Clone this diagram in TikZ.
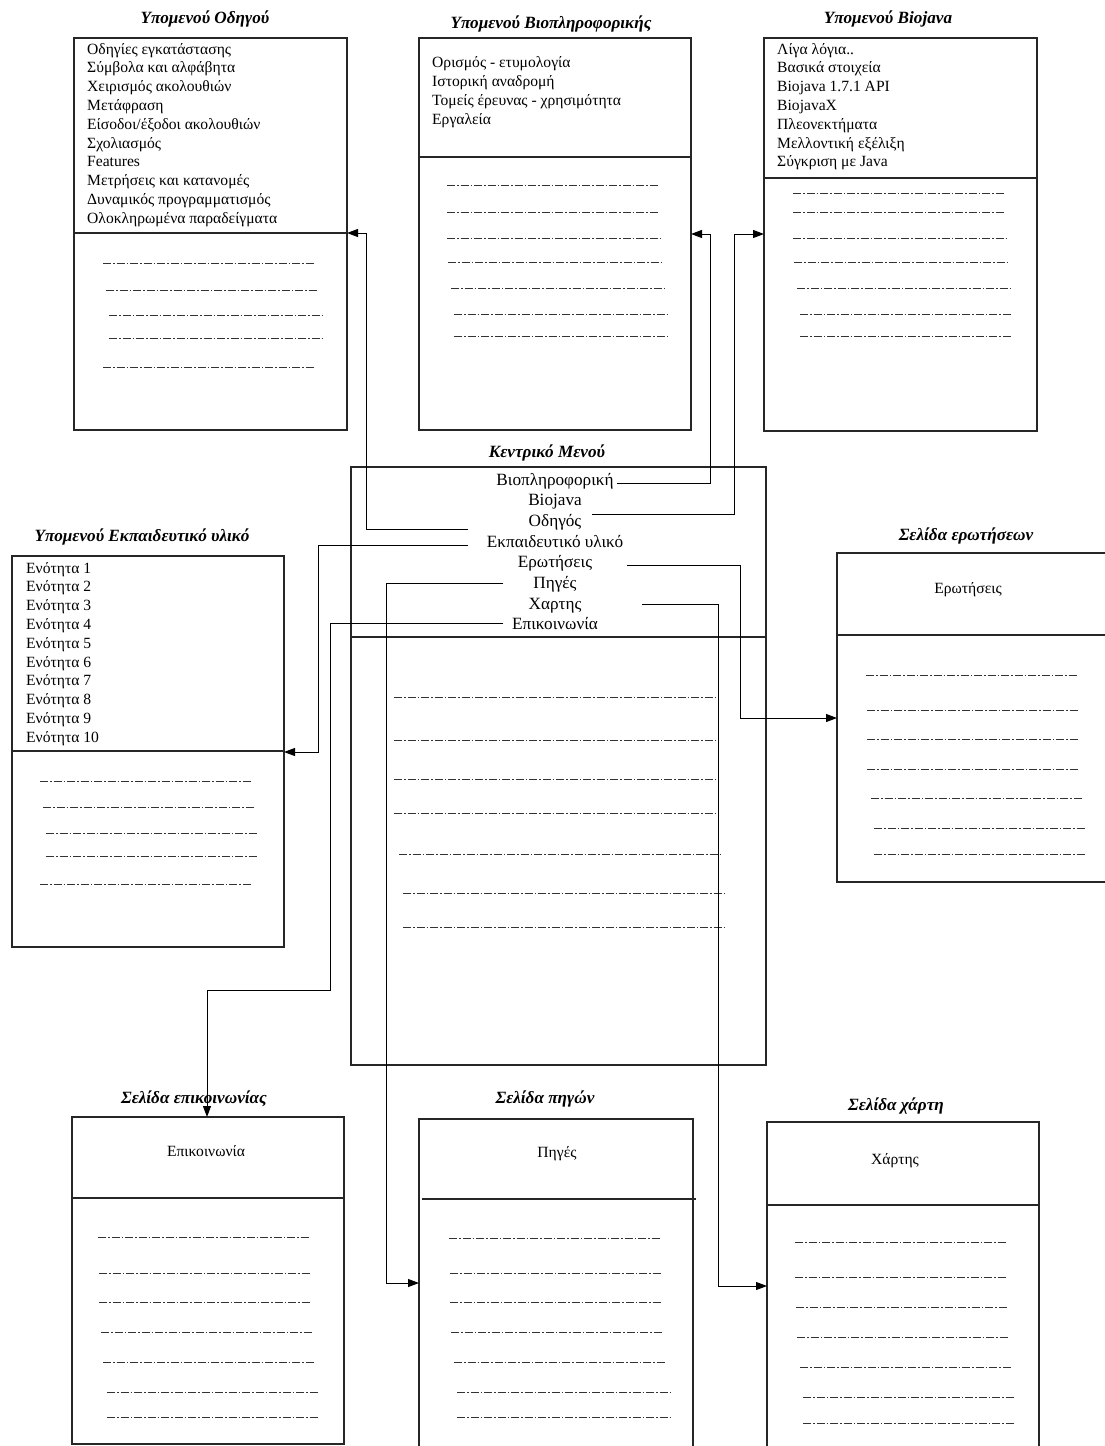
\documentclass[tikz,border=0pt]{standalone}
\usepackage{fontspec}
\setmainfont{Liberation Serif}
\usetikzlibrary{arrows.meta}

\begin{document}
\begin{tikzpicture}[x=1pt,y=-1pt,
  box/.style={draw=black!85, line width=1.2pt, inner sep=0pt, outer sep=0pt, anchor=north west},
  rule/.style={draw=black!85, line width=1.2pt},
  ttl/.style={font=\fontsize{17.2}{19}\selectfont\bfseries\itshape, anchor=base, inner sep=0pt},
  lst/.style={font=\fontsize{15.6}{18.8}\selectfont, anchor=base west, inner sep=0pt},
  lbl/.style={font=\fontsize{15.6}{18.8}\selectfont, anchor=base, inner sep=0pt},
  itm/.style={font=\fontsize{17.2}{20}\selectfont, anchor=base, inner sep=0pt},
  textline/.style={draw=black!80, line width=0.9pt, dash pattern=on 8pt off 2pt on 1.5pt off 2pt},
  link/.style={draw=black, line width=1pt, -{Triangle[length=11pt,width=8pt]}},
]
\useasboundingbox (0,0) rectangle (1105,1446);
\clip (0,0) rectangle (1105,1446);

% ---------- boxes ----------
\node[box, minimum width=273pt, minimum height=392pt] (odig)  at (74,38)   {};
\node[box, minimum width=272pt, minimum height=392pt] (biopl) at (419,38)  {};
\node[box, minimum width=273pt, minimum height=393pt] (bioj)  at (764,38)  {};
\node[box, minimum width=415pt, minimum height=598pt] (kentr) at (351,467) {};
\node[box, minimum width=272pt, minimum height=391pt] (ekp)   at (12,556)  {};
\node[box, minimum width=272pt, minimum height=329pt] (erot)  at (837,553) {};
\node[box, minimum width=272pt, minimum height=327pt] (epik)  at (72,1117) {};
\node[box, minimum width=274pt, minimum height=400pt] (pig)   at (419,1119) {};
\node[box, minimum width=272pt, minimum height=400pt] (xart)  at (767,1122) {};

% ---------- dividers ----------
\draw[rule] (74,233) -- (347,233);
\draw[rule] (419,157) -- (691,157);
\draw[rule] (764,178) -- (1037,178);
\draw[rule] (351,637) -- (766,637);
\draw[rule] (12,751) -- (284,751);
\draw[rule] (837,635) -- (1109,635);
\draw[rule] (72,1198) -- (344,1198);
\draw[rule] (422,1199) -- (696,1199);
\draw[rule] (767,1205) -- (1039,1205);

% ---------- titles ----------
\node[ttl] (t-odig)  at (205,23)   {Υπομενού Οδηγού};
\node[ttl] (t-biopl) at (551,28)   {Υπομενού Βιοπληροφορικής};
\node[ttl] (t-bioj)  at (888,23)   {Υπομενού Biojava};
\node[ttl] (t-kentr) at (547,457)  {Κεντρικό Μενού};
\node[ttl] (t-ekp)   at (142,541)  {Υπομενού Εκπαιδευτικό υλικό};
\node[ttl] (t-erot)  at (966,540)  {Σελίδα ερωτήσεων};
\node[ttl] (t-epik)  at (194,1103) {Σελίδα επικοινωνίας};
\node[ttl] (t-pig)   at (545,1103) {Σελίδα πηγών};
\node[ttl] (t-xart)  at (896,1110) {Σελίδα χάρτη};

% ---------- menu lists ----------
\foreach \t [count=\i from 0] in {Οδηγίες εγκατάστασης, Σύμβολα και αλφάβητα,
  Χειρισμός ακολουθιών, Μετάφραση, Είσοδοι/έξοδοι ακολουθιών, Σχολιασμός,
  Features, Μετρήσεις και κατανομές, Δυναμικός προγραμματισμός,
  Ολοκληρωμένα παραδείγματα}
  \node[lst] (odig-\i) at (87,54+18.8*\i) {\t};

\foreach \t [count=\i from 0] in {Ορισμός - ετυμολογία, Ιστορική αναδρομή,
  Τομείς έρευνας - χρησιμότητα, Εργαλεία}
  \node[lst] (biopl-\i) at (432,67+19*\i) {\t};

\foreach \t [count=\i from 0] in {Λίγα λόγια.., Βασικά στοιχεία, Biojava 1.7.1 API,
  BiojavaX, Πλεονεκτήματα, Μελλοντική εξέλιξη, Σύγκριση με Java}
  \node[lst] (bioj-\i) at (777,54+18.8*\i) {\t};

\foreach \i in {1,...,10}
  \node[lst] (ekp-\i) at (26,573+18.8*\i-18.8) {Ενότητα \i};

\foreach \t [count=\i from 0] in {Βιοπληροφορική, Biojava, Οδηγός,
  Εκπαιδευτικό υλικό, Ερωτήσεις, Πηγές, Χαρτης, Επικοινωνία}
  \node[itm] (m-\i) at (555,485+20.7*\i) {\t};

% ---------- page labels ----------
\node[lbl] (l-erot) at (968,593)  {Ερωτήσεις};
\node[lbl] (l-epik) at (206,1156) {Επικοινωνία};
\node[lbl] (l-pig)  at (557,1157) {Πηγές};
\node[lbl] (l-xart) at (895,1164) {Χάρτης};

% ---------- placeholder text lines ----------
\foreach \a/\b/\y in {103/315/263, 106/318/290, 109/322/315, 109/322/338, 103/315/367,
  447/659/185, 447/659/212, 447/660/238, 448/661/262, 451/664/288, 454/667/314, 454/667/336,
  793/1005/193, 793/1005/212, 793/1006/238, 794/1007/262, 797/1010/288, 800/1012/314, 800/1012/336,
  394/716/697, 394/716/740, 394/716/779, 394/716/813, 399/721/854, 403/726/893, 403/726/927,
  40/252/781, 43/255/807, 46/258/833, 46/258/856, 40/252/884,
  866/1077/675, 867/1078/710, 867/1078/739, 867/1079/769, 871/1083/798, 874/1086/828, 874/1086/854,
  98/310/1237, 99/311/1273, 99/311/1302, 101/312/1332, 103/315/1362, 107/318/1392, 107/318/1417,
  449/661/1238, 450/662/1273, 450/662/1302, 451/663/1332, 454/666/1362, 457/670/1392, 457/670/1417,
  795/1007/1242, 795/1007/1277, 796/1008/1307, 797/1009/1337, 800/1012/1367, 803/1015/1397, 803/1015/1423}
  \draw[textline] (\a,\y) -- (\b,\y);

% ---------- connector ends ----------
\coordinate (s-biopl) at (617,483);
\coordinate (s-bioj)  at (592,514);
\coordinate (s-odig)  at (468,529);
\coordinate (s-ekp)   at (468,545);
\coordinate (s-erot)  at (627,565);
\coordinate (s-pig)   at (503,583);
\coordinate (s-xart)  at (642,604);
\coordinate (s-epik)  at (503,623);

\coordinate (in-odig)  at (347,233);
\coordinate (in-biopl) at (691,234);
\coordinate (in-bioj)  at (764,234);
\coordinate (in-ekp)   at (284,752);
\coordinate (in-erot)  at (837,718);
\coordinate (in-pig)   at (419,1283);
\coordinate (in-xart)  at (767,1286);
\coordinate (in-epik)  at (207,1117);

% ---------- connectors ----------
\draw[link] (s-biopl) -- (710,483) |- (in-biopl);
\draw[link] (s-bioj)  -- (734,514) |- (in-bioj);
\draw[link] (s-odig)  -- (366,529) |- (in-odig);
\draw[link] (s-ekp)   -- (318,545) |- (in-ekp);
\draw[link] (s-erot)  -- (740,565) |- (in-erot);
\draw[link] (s-pig)   -- (386,583) |- (in-pig);
\draw[link] (s-xart)  -- (718,604) |- (in-xart);
\draw[link] (s-epik)  -- (330,623) -- (330,990) -| (in-epik);
\end{tikzpicture}
\end{document}
